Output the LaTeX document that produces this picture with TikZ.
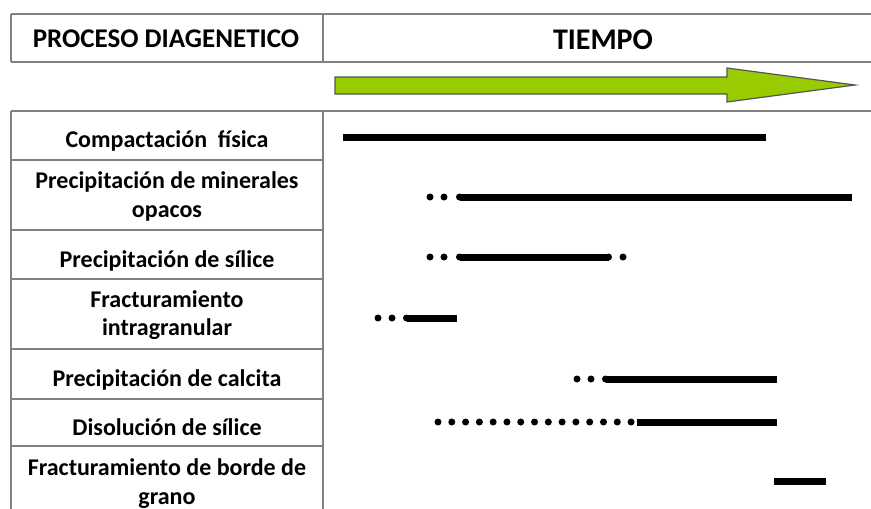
\documentclass[tikz,border=0pt]{standalone}
\usepackage{fontspec}
\setmainfont{Carlito}
\definecolor{gridgray}{RGB}{128,128,128}
\definecolor{arrowgreen}{RGB}{153,204,0}
\definecolor{arrowedge}{RGB}{85,85,85}
\begin{document}
\begin{tikzpicture}[x=1pt,y=-1pt,
  grid/.style={draw=gridgray,line width=1.5pt},
  headtext/.style={font=\bfseries\fontsize{27}{32}\selectfont,anchor=base,inner sep=0pt},
  lbl/.style={font=\bfseries\fontsize{24}{29}\selectfont,anchor=base,inner sep=0pt},
  bar/.style={line width=7pt},
  dotr/.style={radius=3.5pt},
  capr/.style={radius=3.5pt}]
\useasboundingbox[fill=white] (0,0) rectangle (871,509);
% grid
\draw[grid] (11,14) -- (871,14);
\draw[grid] (11,62) -- (871,62);
\draw[grid] (11,111) -- (871,111);
\draw[grid] (11,14) -- (11,62);
\draw[grid] (323,14) -- (323,62);
\draw[grid] (11,111) -- (11,509);
\draw[grid] (323,111) -- (323,509);
\foreach \yy in {160,230,279,349,399,446} \draw[grid] (11,\yy) -- (323,\yy);
% headers
\node[headtext] (hproc) at (166,47) {PROCESO DIAGENETICO};
\node[headtext,font=\bfseries\fontsize{30}{34}\selectfont] (htime) at (603,49) {TIEMPO};
% time arrow
\draw[draw=arrowedge,fill=arrowgreen,line width=1.2pt,line join=miter]
  (335,77) -- (727,77) -- (727,68) -- (855,85) -- (727,102) -- (727,94) -- (335,94) -- cycle;
% labels
\node[lbl] (l1) at (167,147) {Compactación~ física};
\node[lbl] (l2a) at (167,188) {Precipitación de minerales};
\node[lbl] (l2b) at (167,217) {opacos};
\node[lbl] (l3) at (167,267) {Precipitación de sílice};
\node[lbl] (l4a) at (167,307) {Fracturamiento};
\node[lbl] (l4b) at (167,335) {intragranular};
\node[lbl] (l5) at (167,386) {Precipitación de calcita};
\node[lbl] (l6) at (167,435) {Disolución de sílice};
\node[lbl] (l7a) at (167,475) {Fracturamiento de borde de};
\node[lbl] (l7b) at (167,504) {grano};
% bars
\draw[bar] (343,137) -- (766,137);
\fill (430,197) circle[dotr] (444,197) circle[dotr] (459.5,197) circle[capr];
\draw[bar] (459.5,197) -- (852,197);
\fill (430,257) circle[dotr] (444,257) circle[dotr] (623,257) circle[dotr]
      (459.5,257) circle[capr] (608.5,257) circle[capr];
\draw[bar] (459.5,257) -- (608.5,257);
\fill (378,318) circle[dotr] (392,318) circle[dotr] (406.5,318) circle[capr];
\draw[bar] (406.5,318) -- (457,318);
\fill (577,379) circle[dotr] (591,379) circle[dotr] (605.5,379) circle[capr];
\draw[bar] (605.5,379) -- (777,379);
\foreach \i in {0,...,14} \fill (438+13.79*\i,422) circle[dotr];
\draw[bar] (637,422) -- (777,422);
\draw[bar] (774,481) -- (826,481);
\end{tikzpicture}
\end{document}
